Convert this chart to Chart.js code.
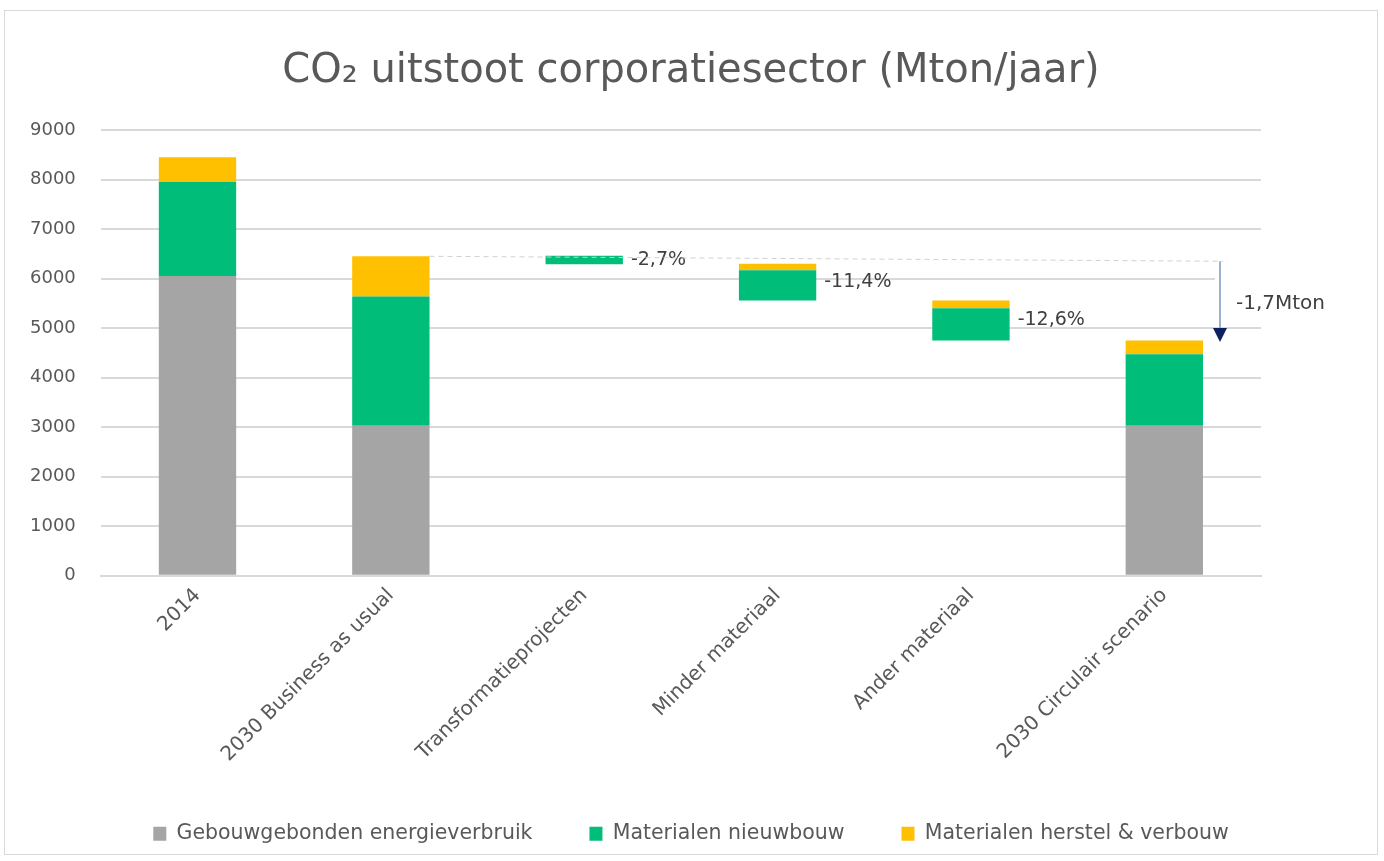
<!DOCTYPE html>
<html>
<head>
<meta charset="utf-8">
<script src="https://cdn.jsdelivr.net/npm/chart.js@4"></script>
<style>
  body { margin: 0; background: #fff; }
  #kader { position: absolute; left: 4px; top: 10px; width: 1372px; height: 843px; border: 1px solid #d9d9d9; }
</style>
</head>
<body>
<div id="kader"><canvas id="grafiek"></canvas></div>
<script>
// categorieen en waarden (Mton/jaar)
var categorieen = ['2014', '2030 Business as usual', 'Transformatieprojecten', 'Minder materiaal', 'Ander materiaal', '2030 Circulair scenario'];
var basis      = [0, 0, 6290, 5560, 4750, 0];          // onzichtbare sokkel voor de watervalstappen
var gebouw     = [6050, 3030, 0, 0, 0, 3030];
var nieuwbouw  = [1900, 2610, 170, 610, 650, 1440];
var herstel    = [500, 810, 0, 130, 160, 280];
var percentages = ['', '', '-2,7%', '-11,4%', '-12,6%', ''];
var yTicks = [0, 1000, 2000, 3000, 4000, 5000, 6000, 7000, 8000, 9000];
var referentie = 6450;   // niveau 2030 Business as usual
var circulair = 4720;    // niveau 2030 Circulair scenario
var verschilLabel = '-1,7Mton';

var lettertype = '"DejaVu Sans", sans-serif';
var grijs = '#595959';

var annotaties = {
    id: 'annotaties',
    afterDatasetsDraw: function(chart){
        var ctx = chart.ctx;
        var ys = chart.scales.y;
        var groen = chart.getDatasetMeta(2);
        ctx.save();
        // percentage labels rechts van de staven
        ctx.font = '19px ' + lettertype;
        ctx.fillStyle = '#404040';
        ctx.textBaseline = 'middle';
        for(let i=0;i<percentages.length;i++){
            if(!percentages[i]) continue;
            var bar = groen.data[i];
            var rechts = bar.x + bar.width/2;
            var midden = ys.getPixelForValue(basis[i] + (nieuwbouw[i] + herstel[i])/2);
            ctx.fillText(percentages[i], rechts + 8, midden);
        }
        // gestippelde lijn vanaf Business as usual
        var bau = groen.data[1];
        var circ = groen.data[5];
        var pijlX = circ.x + circ.width/2 + 17;
        ctx.setLineDash([5, 4]);
        ctx.strokeStyle = '#d0d0d0';
        ctx.lineWidth = 1;
        ctx.beginPath();
        ctx.moveTo(bau.x + bau.width/2, ys.getPixelForValue(referentie));
        ctx.lineTo(pijlX + 3, ys.getPixelForValue(referentie - 100));
        ctx.stroke();
        ctx.setLineDash([]);
        // witte achtergrond achter label
        var labelY = ys.getPixelForValue((referentie + circulair)/2 - 85);
        ctx.fillStyle = '#fff';
        ctx.fillRect(pijlX - 5, ys.getPixelForValue(6200), 1384, 40);
        // pijl
        var y1 = ys.getPixelForValue(referentie - 100);
        var y2 = ys.getPixelForValue(circulair);
        ctx.strokeStyle = '#9db0d0';
        ctx.lineWidth = 2;
        ctx.beginPath();
        ctx.moveTo(pijlX, y1);
        ctx.lineTo(pijlX, y2 - 12);
        ctx.stroke();
        ctx.fillStyle = '#0b2160';
        ctx.beginPath();
        ctx.moveTo(pijlX - 7, y2 - 14);
        ctx.lineTo(pijlX + 7, y2 - 14);
        ctx.lineTo(pijlX, y2);
        ctx.closePath();
        ctx.fill();
        ctx.font = '20px ' + lettertype;
        ctx.fillStyle = '#404040';
        ctx.fillText(verschilLabel, pijlX + 16, labelY);
        ctx.restore();
    }
};

new Chart(document.getElementById('grafiek'), {
    type: 'bar',
    data: {
        labels: categorieen,
        datasets: [
            { label: 'basis', data: basis, backgroundColor: 'rgba(0,0,0,0)' },
            { label: 'Gebouwgebonden energieverbruik', data: gebouw, backgroundColor: '#a5a5a5' },
            { label: 'Materialen nieuwbouw', data: nieuwbouw, backgroundColor: '#00bd7a' },
            { label: 'Materialen herstel & verbouw', data: herstel, backgroundColor: '#ffc000' }
        ]
    },
    options: {
        responsive: true,
        maintainAspectRatio: false,
        animation: false,
        datasets: { bar: { categoryPercentage: 1, barPercentage: 0.4 } },
        layout: { padding: { left: 0, right: 0, top: 10, bottom: 0 } },
        plugins: {
            title: {
                display: true,
                text: 'CO\u2082 uitstoot corporatiesector (Mton/jaar)',
                color: grijs,
                font: { family: lettertype, size: 40, weight: 'normal' },
                padding: { top: 27, bottom: 34 }
            },
            legend: {
                position: 'bottom',
                labels: {
                    filter: function(item){ return item.text !== 'basis'; },
                    boxWidth: 13, boxHeight: 14,
                    padding: 57,
                    color: grijs,
                    font: { family: lettertype, size: 20.5 }
                }
            },
            tooltip: { enabled: false }
        },
        scales: {
            x: {
                stacked: true,
                grid: { display: false },
                border: { color: '#d9d9d9', width: 2 },
                ticks: { color: grijs, maxRotation: 45, minRotation: 45, padding: 0, font: { family: lettertype, size: 20 } }
            },
            y: {
                stacked: true,
                min: 0, max: 9000,
                afterBuildTicks: function(axis){ axis.ticks = yTicks.map(function(v){ return { value: v }; }); },
                grid: { color: '#d9d9d9', lineWidth: 2, drawTicks: false },
                border: { display: false },
                ticks: { color: grijs, padding: 25, font: { family: lettertype, size: 18 },
                         callback: function(v){ return String(v); } }
            },
            ruimte: {
                type: 'linear',
                position: 'right',
                display: true,
                grid: { display: false, drawTicks: false },
                border: { display: false },
                ticks: { display: false },
                afterFit: function(axis){ axis.width = 116; }
            }
        }
    },
    plugins: [annotaties]
});
</script>
</body>
</html>
